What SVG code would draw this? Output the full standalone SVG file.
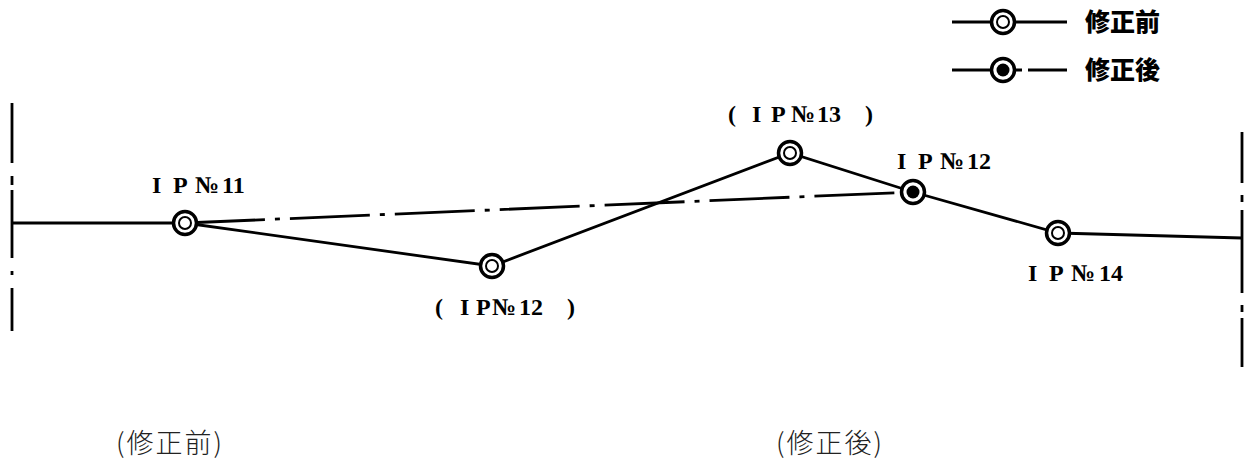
<svg xmlns="http://www.w3.org/2000/svg" width="1247" height="464" viewBox="0 0 1247 464">
<style>
.ln{stroke:#000;stroke-width:2.8;fill:none;stroke-linecap:butt}
.dd{stroke:#000;stroke-width:2.8;fill:none;stroke-dasharray:80 10 5 10}
.ring{fill:#fff;stroke:#000;stroke-width:3.5}
.inner{fill:#fff;stroke:#000;stroke-width:2}
.dot{fill:#000}
.lbl{font-family:"Liberation Serif","DejaVu Serif",serif;font-weight:bold;font-size:24px;fill:#000}
.leg{font-family:"Noto Sans CJK JP",sans-serif;font-weight:900;font-size:25px;fill:#000}
.cap{font-family:"Noto Sans CJK JP",sans-serif;font-weight:300;font-size:27px;letter-spacing:2px;fill:#222}
</style>
<rect width="1247" height="464" fill="#fff"/>
<g id="connectors">
  <path class="ln" d="M12,103V163M12,176V185M12,190V258M12,271V275M12,288V331"/>
  <path class="ln" d="M1242,132V183M1242,195V202M1242,210V293M1242,305V312M1242,318V367"/>
  <line class="ln" x1="12" y1="223" x2="185" y2="223"/>
  <polyline class="ln" points="185,223 492,266 790,153 913,192 1058,233 1242,238"/>
  <line class="dd" x1="185" y1="223" x2="913" y2="192"/>
</g>
<g id="ip11">
  <circle class="ring" cx="185" cy="223" r="11.5"/><circle class="inner" cx="185" cy="223" r="6"/>
  <text class="lbl" y="193"><tspan x="152">I</tspan><tspan x="173">P</tspan><tspan x="195">№</tspan><tspan x="222">11</tspan></text>
</g>
<g id="ip12-old">
  <circle class="ring" cx="492" cy="266" r="11.5"/><circle class="inner" cx="492" cy="266" r="6"/>
  <text class="lbl" y="315"><tspan x="435">(</tspan><tspan x="460">I</tspan><tspan x="476">P</tspan><tspan x="492">№</tspan><tspan x="519">12</tspan><tspan x="567">)</tspan></text>
</g>
<g id="ip13">
  <circle class="ring" cx="790" cy="153" r="11.5"/><circle class="inner" cx="790" cy="153" r="6"/>
  <text class="lbl" y="122"><tspan x="728">(</tspan><tspan x="752">I</tspan><tspan x="771">P</tspan><tspan x="791">№</tspan><tspan x="817">13</tspan><tspan x="865">)</tspan></text>
</g>
<g id="ip12-new">
  <circle class="ring" cx="913" cy="192" r="11.5"/><circle class="dot" cx="913" cy="192" r="6.5"/>
  <text class="lbl" y="169"><tspan x="897">I</tspan><tspan x="918">P</tspan><tspan x="940">№</tspan><tspan x="967">12</tspan></text>
</g>
<g id="ip14">
  <circle class="ring" cx="1058" cy="233" r="11.5"/><circle class="inner" cx="1058" cy="233" r="6"/>
  <text class="lbl" y="281"><tspan x="1028">I</tspan><tspan x="1049">P</tspan><tspan x="1071">№</tspan><tspan x="1099">14</tspan></text>
</g>
<g id="legend">
  <line class="ln" x1="952" y1="22" x2="1067" y2="22"/>
  <circle class="ring" cx="1003" cy="22" r="11.5"/><circle class="inner" cx="1003" cy="22" r="6"/>
  <text class="leg" x="1085" y="31">修正前</text>
  <path class="ln" d="M952,70H992M1016,70H1022M1028,70H1067"/>
  <circle class="ring" cx="1003" cy="70" r="11.5"/><circle class="dot" cx="1003" cy="70" r="6.5"/>
  <text class="leg" x="1085" y="79">修正後</text>
</g>
<g id="captions">
  <text class="cap" x="116" y="453">(修正前)</text>
  <text class="cap" x="776" y="453">(修正後)</text>
</g>
</svg>
